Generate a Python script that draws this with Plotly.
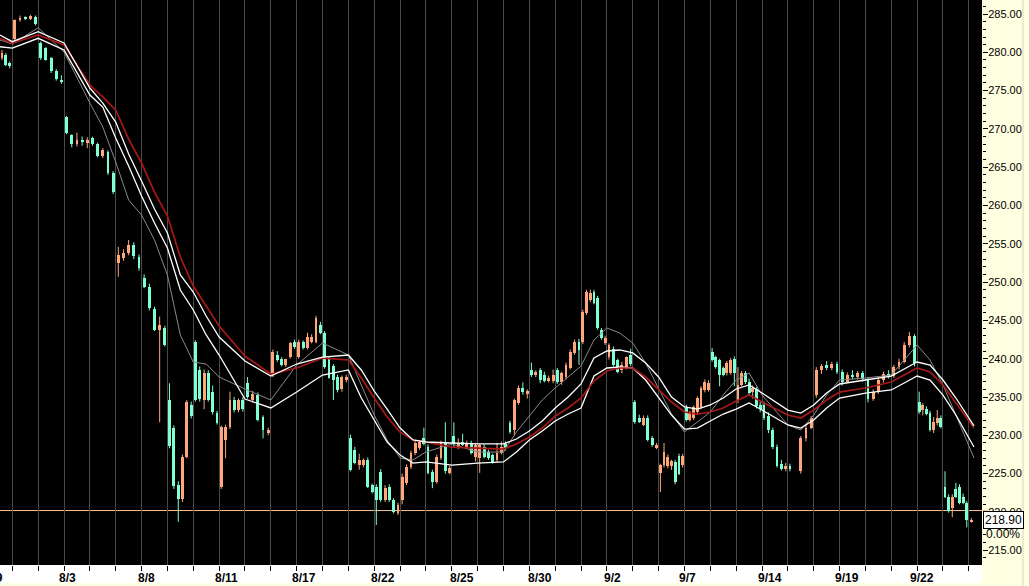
import plotly.graph_objects as go

# ---------------- data (time in trading-day units, gridline = start of day) -------------
bar_t = [
    -0.40, -0.25, -0.10,
    0.10, 0.30, 0.50, 0.70, 0.90,
    1.10, 1.30, 1.50, 1.70, 1.90,
    2.10, 2.30, 2.50, 2.70, 2.90,
    3.10, 3.30, 3.50, 3.70, 3.90,
    4.10, 4.30, 4.50, 4.70, 4.90,
    5.10, 5.30, 5.50, 5.70, 5.90,
    6.08, 6.25, 6.42, 6.58, 6.75, 6.92,
    7.08, 7.25, 7.42, 7.58, 7.75, 7.92,
    8.08, 8.25, 8.42, 8.58, 8.75, 8.92,
    9.10, 9.30, 9.50, 9.70, 9.90,
    10.08, 10.25, 10.42, 10.58, 10.75, 10.92,
    11.08, 11.25, 11.42, 11.58, 11.75, 11.92,
    12.08, 12.25, 12.42, 12.58, 12.75, 12.92,
    13.08, 13.25, 13.42, 13.58, 13.75, 13.92,
    14.08, 14.25, 14.42, 14.58, 14.75, 14.92,
    15.08, 15.25, 15.42, 15.58, 15.75, 15.92,
    16.08, 16.25, 16.42, 16.58, 16.75, 16.92,
    17.08, 17.25, 17.42, 17.58, 17.75, 17.92,
    18.08, 18.25, 18.42, 18.58, 18.75, 18.92,
    19.08, 19.25, 19.42, 19.58, 19.75, 19.92,
    20.08, 20.25, 20.42, 20.58, 20.75, 20.92,
    21.08, 21.25, 21.42, 21.58, 21.75, 21.92,
    22.07, 22.21, 22.36, 22.50, 22.64, 22.79, 22.93,
    23.08, 23.25, 23.42, 23.58, 23.75, 23.92,
    24.08, 24.25, 24.42, 24.58, 24.75, 24.92,
    25.07, 25.21, 25.36, 25.50, 25.64, 25.79, 25.93,
    26.07, 26.21, 26.36, 26.50, 26.64, 26.79, 26.93,
    27.07, 27.21, 27.36, 27.50, 27.64, 27.79, 27.93,
    28.07, 28.21, 28.36, 28.50, 28.64, 28.79, 28.93,
    29.08, 29.25, 29.42, 29.58, 29.75, 29.92,
    30.08, 30.50, 30.70, 30.90,
    31.10, 31.30, 31.50, 31.70, 31.90,
    32.10, 32.30, 32.50, 32.70, 32.90,
    33.10, 33.30, 33.50, 33.70, 33.90,
    34.10, 34.30, 34.50, 34.70, 34.90,
    35.08, 35.22, 35.36, 35.50, 35.64, 35.78, 35.92,
    36.08, 36.22, 36.36, 36.50, 36.64, 36.78, 36.92,
    37.10,
]
bar_open = [
    279.3, 279.6, 278.6,
    281.7, 284.2, 284.5, 284.4, 284.6,
    281.2, 280.5, 279.2, 277.6, 276.4,
    271.6, 269.2, 268.0, 268.5, 268.2,
    268.8, 268.0, 266.4, 267.0, 264.3,
    252.5, 253.2, 253.8, 254.9, 253.3,
    250.5, 249.4, 246.5, 243.8, 244.0,
    234.6, 231.0, 223.5, 221.7, 227.2, 234.0,
    242.2, 238.5, 234.6, 238.1, 235.7, 232.9,
    223.3, 229.4, 231.1, 234.6, 233.3, 234.6,
    236.8, 234.6, 235.3, 232.4, 230.3,
    237.9, 240.5, 239.9, 239.2, 240.2, 242.2,
    240.2, 242.2, 241.4, 242.2, 242.2, 244.4,
    243.4, 240.0, 239.0, 237.6, 236.0, 237.2,
    229.6, 228.1, 226.1, 226.1, 226.8, 223.5,
    223.3, 225.2, 221.6, 223.3, 221.6, 219.9,
    221.6, 223.8, 225.9, 227.7, 228.4, 229.6,
    228.5, 225.2, 223.9, 227.0, 229.1, 225.1,
    229.9, 228.4, 229.1, 228.5, 229.0, 227.2,
    227.0, 228.5, 227.8, 227.4, 226.8, 227.7,
    228.9, 231.6, 230.7, 234.2, 236.2, 235.4,
    238.5, 237.9, 238.5, 237.9, 237.1, 237.1,
    238.5, 236.9, 237.6, 238.8, 240.8, 242.2,
    242.2, 246.0, 247.7, 248.7, 247.9, 243.7, 242.1,
    240.2, 241.3, 239.8, 238.5, 238.9, 240.5,
    234.3, 232.3, 231.4, 232.3, 229.6, 228.4,
    225.1, 226.1, 226.0, 226.0, 226.5, 227.3, 226.1,
    233.6, 232.0, 232.3, 233.1, 233.7, 235.9, 235.9,
    240.9, 240.2, 239.8, 238.8, 238.1, 238.1, 240.0,
    234.6, 236.6, 238.1, 237.0, 235.6, 236.0, 234.0,
    234.0, 232.5, 230.7, 228.5, 226.2, 225.6,
    226.0, 225.3, 229.6, 231.0,
    235.2, 238.5, 239.2, 238.8, 239.3,
    238.3, 237.0, 237.9, 237.6, 238.1,
    237.3, 234.8, 235.7, 237.2, 238.0,
    237.7, 238.9, 239.6, 241.8, 243.0,
    234.3, 233.3, 233.5, 232.9, 230.7, 231.6, 232.3,
    223.3, 222.0, 220.5, 223.0, 223.3, 222.0, 221.2,
    218.8,
]
bar_high = [
    280.3, 279.9, 278.8,
    284.3, 284.8, 284.7, 284.9, 284.8,
    281.4, 280.7, 279.4, 277.8, 277.0,
    271.7, 269.3, 269.5, 269.0, 268.9,
    269.0, 268.2, 267.5, 267.2, 264.5,
    254.6, 254.3, 255.5, 255.2, 253.6,
    251.0, 249.8, 246.8, 245.5, 244.3,
    236.8, 231.3, 224.0, 227.5, 234.6, 234.4,
    242.4, 239.0, 238.6, 238.5, 236.5, 233.2,
    231.3, 231.4, 235.7, 235.0, 234.8, 235.0,
    237.6, 235.8, 235.6, 232.6, 231.0,
    241.2, 241.0, 240.2, 240.0, 242.2, 242.5,
    242.5, 242.4, 243.4, 243.2, 245.6, 244.8,
    243.6, 240.3, 239.3, 237.9, 237.8, 237.9,
    230.1, 228.5, 227.6, 227.0, 227.1, 223.7,
    223.6, 225.6, 223.5, 223.6, 221.8, 221.2,
    225.0, 226.2, 228.0, 229.3, 229.3, 231.0,
    228.8, 225.5, 227.5, 229.3, 231.7, 226.0,
    231.7, 229.6, 230.2, 229.3, 229.3, 229.0,
    228.9, 228.8, 228.1, 227.6, 229.0, 229.2,
    229.2, 231.9, 234.8, 236.5, 236.9, 236.0,
    239.5, 238.5, 238.8, 238.3, 237.8, 238.6,
    238.8, 238.3, 239.5, 241.2, 242.5, 242.6,
    246.4, 249.0, 249.0, 249.0, 248.2, 244.0, 243.0,
    242.0, 241.6, 240.0, 239.6, 240.3, 241.3,
    234.6, 232.7, 232.6, 232.6, 229.9, 229.0,
    226.3, 229.0, 227.5, 226.8, 226.8, 227.6, 227.6,
    234.0, 233.2, 233.9, 235.1, 236.4, 237.3, 237.2,
    241.4, 240.4, 240.0, 239.0, 239.7, 240.1, 240.3,
    238.9, 238.4, 238.4, 237.4, 236.5, 236.3, 234.5,
    234.4, 233.0, 231.0, 228.8, 226.8, 226.4,
    226.3, 229.9, 231.5, 232.5,
    238.9, 239.3, 239.7, 239.6, 239.6,
    238.6, 238.2, 238.5, 238.4, 238.4,
    237.6, 236.0, 237.5, 238.3, 238.5,
    239.2, 240.0, 242.2, 243.5, 243.2,
    235.7, 234.2, 233.8, 233.2, 232.4, 233.3, 232.6,
    225.3, 222.3, 222.3, 223.8, 223.6, 222.4, 221.4,
    219.2,
]
bar_low = [
    279.0, 278.2, 277.9,
    281.5, 284.0, 284.2, 284.2, 283.5,
    279.0, 278.9, 277.3, 276.3, 275.9,
    269.3, 267.6, 267.7, 267.8, 267.5,
    267.8, 266.3, 266.2, 264.0, 261.5,
    250.7, 252.8, 253.5, 253.0, 251.5,
    249.2, 246.3, 243.6, 231.7, 241.6,
    228.3, 223.0, 218.7, 221.3, 227.0, 232.2,
    234.4, 234.4, 233.4, 234.4, 232.7, 231.4,
    223.0, 227.0, 230.8, 233.0, 233.0, 233.1,
    234.8, 234.3, 231.8, 229.6, 230.0,
    237.6, 239.6, 239.0, 238.9, 240.0, 241.3,
    240.0, 241.2, 241.2, 242.0, 242.0, 243.2,
    238.7, 237.4, 234.6, 235.6, 235.7, 236.9,
    225.3, 226.2, 225.5, 225.8, 223.1, 222.4,
    218.3, 221.3, 221.3, 221.3, 219.8, 219.6,
    221.0, 223.5, 225.6, 227.4, 228.1, 228.7,
    224.9, 223.1, 223.7, 226.8, 225.0, 224.9,
    228.5, 228.2, 228.6, 228.3, 227.5, 226.6,
    225.1, 227.0, 226.8, 226.3, 226.5, 227.5,
    228.0, 230.2, 230.0, 234.0, 235.3, 234.8,
    237.6, 237.6, 236.8, 236.9, 236.9, 236.8,
    236.7, 236.6, 237.3, 238.6, 240.5, 239.2,
    241.9, 245.7, 247.4, 247.1, 243.8, 242.5, 241.8,
    239.9, 239.0, 238.1, 238.1, 238.6, 239.0,
    231.5, 231.6, 231.2, 229.2, 228.5, 228.2,
    222.6, 225.8, 225.7, 225.5, 223.6, 224.8, 225.8,
    231.8, 231.8, 232.0, 232.8, 233.4, 235.6, 235.7,
    239.6, 238.7, 236.4, 237.7, 237.8, 237.9, 236.4,
    234.2, 236.4, 236.7, 235.2, 234.8, 233.5, 233.0,
    232.0, 230.3, 228.2, 225.8, 225.4, 225.3,
    225.3, 225.0, 229.2, 230.8,
    234.9, 238.0, 238.5, 238.5, 238.0,
    236.5, 236.8, 237.3, 237.3, 237.0,
    234.3, 234.5, 235.4, 236.9, 237.4,
    237.5, 238.6, 239.4, 241.5, 239.0,
    232.8, 232.6, 232.6, 230.5, 230.3, 231.3, 230.9,
    221.8, 219.9, 219.3, 221.8, 221.0, 221.0, 218.0,
    218.6,
]
bar_close = [
    279.9, 278.3, 278.2,
    284.2, 284.5, 284.4, 284.7, 283.7,
    279.2, 279.0, 277.5, 276.5, 276.1,
    269.5, 268.0, 268.5, 268.3, 268.6,
    268.0, 266.5, 267.2, 264.3, 261.8,
    253.6, 253.8, 254.9, 253.4, 251.8,
    249.4, 246.6, 243.8, 244.4, 241.8,
    228.6, 223.4, 221.7, 227.2, 234.3, 232.5,
    234.6, 234.7, 238.1, 234.6, 233.0, 231.6,
    231.1, 231.1, 234.6, 233.3, 234.6, 233.4,
    235.0, 235.4, 232.0, 230.7, 230.7,
    240.9, 239.8, 239.2, 239.9, 242.0, 241.5,
    242.2, 241.4, 242.8, 242.9, 245.3, 243.4,
    238.9, 237.5, 237.2, 235.9, 237.6, 237.6,
    225.5, 226.4, 226.8, 226.8, 223.3, 222.6,
    221.6, 221.6, 223.1, 221.6, 220.0, 220.9,
    224.6, 225.9, 227.7, 229.0, 229.1, 228.9,
    225.1, 223.9, 227.2, 229.0, 225.3, 225.7,
    228.9, 229.0, 228.8, 229.0, 227.7, 228.7,
    228.7, 227.2, 227.0, 226.5, 227.7, 228.5,
    228.3, 230.4, 234.6, 236.2, 235.6, 235.8,
    237.9, 238.3, 237.2, 237.1, 237.5, 237.9,
    236.9, 238.1, 239.2, 240.9, 242.2, 241.2,
    246.1, 248.7, 248.6, 247.3, 244.0, 242.7, 242.7,
    241.8, 239.2, 238.3, 239.2, 240.2, 239.3,
    231.7, 231.8, 232.3, 229.4, 228.7, 228.8,
    226.1, 227.8, 227.2, 226.6, 223.9, 225.0, 227.3,
    232.0, 233.0, 233.7, 234.9, 236.2, 237.0, 236.8,
    239.8, 238.9, 237.9, 237.9, 239.4, 239.8, 238.1,
    236.6, 238.1, 236.9, 235.5, 236.2, 233.8, 233.4,
    232.3, 230.7, 228.5, 226.0, 225.6, 226.0,
    225.6, 229.6, 231.0, 232.2,
    238.5, 239.0, 238.8, 239.3, 238.3,
    237.0, 237.9, 237.6, 238.1, 237.3,
    234.8, 235.7, 237.2, 238.0, 237.7,
    238.9, 239.6, 241.8, 243.0, 239.5,
    233.0, 233.9, 232.8, 230.7, 231.7, 232.3, 231.1,
    222.0, 220.1, 222.0, 222.0, 221.2, 221.2, 218.9,
    218.9,
]

# moving-average style overlay lines (read at sample times)
ma_t = [-0.48, 0, 1, 2, 3, 3.5, 4, 4.5, 5, 5.5, 6, 6.5, 7, 7.5, 8, 9, 10, 11, 12, 13,
        13.5, 14, 14.5, 15, 15.5, 16, 17, 18, 19, 19.5, 20, 20.5, 21, 21.5, 22, 22.5,
        23, 23.5, 24, 24.5, 25, 25.5, 26, 26.5, 27, 27.5, 28, 28.5, 29, 30, 30.5, 31,
        31.5, 32, 33, 34, 34.5, 35, 35.5, 36, 36.5, 37, 37.2]
ma_red = [281.8, 281.2, 282.26, 280.96, 275.73, 274.17, 272.47, 268.68, 265.55, 261.76,
          258.63, 253.28, 249.49, 246.88, 244.27, 240.35, 238.0, 238.79, 240.09, 239.83,
          237.48, 234.87, 232.39, 230.43, 229.39, 229.13, 228.47, 228.34, 228.21, 228.87,
          229.78, 230.95, 232.52, 233.57, 234.87, 237.09, 238.4, 238.79, 238.79, 237.61,
          235.92, 234.35, 233.04, 232.78, 233.04, 233.57, 234.48, 235.26, 234.35, 232.65,
          232.26, 233.3, 234.61, 235.65, 236.18, 236.96, 237.87, 238.79, 238.27, 236.57,
          234.22, 232.0, 230.95]
ma_white1 = [282.26, 281.39, 282.69, 281.22, 275.34, 273.38, 270.9, 266.73, 263.2, 259.55,
             256.41, 250.93, 248.71, 245.58, 242.83, 239.7, 237.74, 239.31, 240.22, 240.48,
             238.53, 235.78, 233.43, 230.95, 229.39, 229.13, 229.0, 228.87, 228.87, 229.52,
             230.56, 231.87, 233.57, 235.0, 236.7, 240.09, 241.01, 241.14, 240.75, 239.44,
             237.61, 235.0, 233.7, 233.43, 233.96, 234.87, 236.05, 236.57, 235.52, 233.3,
             232.91, 233.96, 235.52, 236.7, 237.22, 237.74, 238.66, 239.57, 239.18, 237.22,
             234.87, 232.26, 231.22]
ma_white2 = [280.73, 280.56, 281.83, 280.3, 274.43, 272.86, 268.81, 265.16, 261.24, 257.72,
             254.45, 248.97, 246.36, 243.1, 240.48, 234.74, 233.57, 235.65, 237.87, 238.53,
             234.87, 232.0, 229.13, 227.43, 226.38, 226.52, 226.12, 226.38, 226.52, 227.82,
             229.39, 230.56, 231.87, 232.78, 233.57, 237.74, 238.79, 238.92, 238.79, 237.22,
             235.0, 232.65, 230.82, 230.95, 231.87, 232.78, 233.43, 234.22, 233.3, 231.35,
             230.95, 232.0, 233.57, 234.87, 235.52, 235.92, 236.83, 237.74, 237.22, 235.26,
             232.65, 229.78, 228.47]
ma_gray = [281.61, 281.09, 283.21, 280.04, 273.38, 270.25, 265.68, 260.72, 258.76, 255.5,
           250.93, 243.1, 239.57, 239.31, 237.61, 236.05, 234.61, 239.18, 242.05, 240.48,
           236.57, 232.65, 229.39, 227.04, 226.78, 227.82, 228.87, 227.82, 227.82, 230.43,
           232.52, 234.61, 236.18, 237.61, 239.05, 242.44, 244.01, 243.36, 242.05, 239.44,
           236.18, 232.78, 230.43, 231.74, 233.04, 235.26, 237.22, 238.13, 235.26, 231.35,
           230.69, 232.65, 235.26, 237.22, 237.48, 237.87, 239.83, 241.79, 239.83, 236.57,
           232.65, 228.74, 227.04]

ref_level = 220.18
date_labels = ["7/29", "8/3", "8/8", "8/11", "8/17", "8/22", "8/25", "8/30",
               "9/2", "9/7", "9/14", "9/19", "9/22"]
date_label_t = [-0.81, 2.12, 5.21, 8.3, 11.3, 14.34, 17.4, 20.4, 23.2, 26.1, 29.3, 32.3, 35.2]

# ---------------- styling ----------------
UP = "#FFA77A"
DOWN = "#7FFFD4"
X0, X1 = -0.476, 37.51
Y0, Y1 = 213.07, 286.83
PLOT_W, PLOT_H = 982, 565

fig = go.Figure()

# wicks
for col, is_up in ((UP, True), (DOWN, False)):
    wx, wy = [], []
    for t, o, h, l, c in zip(bar_t, bar_open, bar_high, bar_low, bar_close):
        if (c >= o) == is_up:
            wx += [t, t, None]
            wy += [l, h, None]
    fig.add_trace(go.Scatter(x=wx, y=wy, mode="lines", line=dict(color=col, width=1),
                             hoverinfo="skip"))

# bodies
for col, is_up in ((UP, True), (DOWN, False)):
    bx, bbase, bh = [], [], []
    for t, o, c in zip(bar_t, bar_open, bar_close):
        if (c >= o) == is_up:
            bx.append(t)
            bbase.append(min(o, c))
            bh.append(max(abs(c - o), 0.15))
    fig.add_trace(go.Bar(x=bx, y=bh, base=bbase, width=0.11,
                         marker=dict(color=col, line=dict(width=0))))

# overlay lines
fig.add_trace(go.Scatter(x=ma_t, y=ma_gray, mode="lines", line=dict(color="#8a8a8a", width=1)))
fig.add_trace(go.Scatter(x=ma_t, y=ma_white2, mode="lines", line=dict(color="#ffffff", width=1.3)))
fig.add_trace(go.Scatter(x=ma_t, y=ma_red, mode="lines", line=dict(color="#a81818", width=1.7)))
fig.add_trace(go.Scatter(x=ma_t, y=ma_white1, mode="lines", line=dict(color="#ffffff", width=1.3)))

ref_y_paper = (ref_level - Y0) / (Y1 - Y0)
shapes = [
    # white date strip under the plot
    dict(type="rect", xref="paper", yref="paper", x0=0, x1=1, y0=-18 / PLOT_H, y1=0,
         fillcolor="#ffffff", line=dict(width=0), layer="below"),
    # horizontal reference line
    dict(type="line", xref="paper", yref="paper", x0=0, x1=990 / PLOT_W,
         y0=ref_y_paper, y1=ref_y_paper, line=dict(color="#FFC392", width=1), layer="below"),
    # right edge separator
    dict(type="line", xref="paper", yref="paper", x0=1023 / PLOT_W, x1=1023 / PLOT_W,
         y0=-21 / PLOT_H, y1=1, line=dict(color="#D8D4C4", width=1), layer="below"),
]

annotations = []
for txt, t in zip(date_labels, date_label_t):
    annotations.append(dict(xref="paper", yref="paper", x=(t - X0) / (X1 - X0),
                            y=-13 / PLOT_H, text=txt, showarrow=False,
                            xanchor="center", yanchor="middle",
                            font=dict(family="Liberation Sans", size=12, color="#000000",
                                      weight="bold")))
last_close = bar_close[-1]
annotations.append(dict(xref="paper", yref="y", x=1003 / PLOT_W, y=last_close,
                        text=f"{last_close:.2f}", showarrow=False, xanchor="center",
                        yanchor="middle", bgcolor="#ffffff", bordercolor="#000000",
                        borderwidth=1, borderpad=1,
                        font=dict(family="Liberation Sans", size=12, color="#000000")))
annotations.append(dict(xref="paper", yref="y", x=1003 / PLOT_W, y=last_close, yshift=-14,
                        text="0.00%", showarrow=False, xanchor="center", yanchor="middle",
                        font=dict(family="Liberation Sans", size=12, color="#000000")))

fig.update_layout(
    width=1029, height=586,
    margin=dict(l=0, r=47, t=0, b=21, pad=0),
    paper_bgcolor="#FFFFE1", plot_bgcolor="#000000",
    showlegend=False, barmode="overlay", bargap=0,
    shapes=shapes, annotations=annotations,
    xaxis=dict(range=[X0, X1], tickmode="linear", tick0=0, dtick=1,
               ticks="outside", ticklen=5, tickcolor="#000000", tickwidth=1,
               showgrid=True, gridcolor="#4a4a4a", gridwidth=1,
               showticklabels=False, zeroline=False, showline=False, fixedrange=True),
    yaxis=dict(side="right", range=[Y0, Y1], tickmode="linear", tick0=215, dtick=5,
               tickformat=".2f", ticks="outside", ticklen=5, tickcolor="#000000",
               tickfont=dict(family="Liberation Sans", size=11, color="#000000"),
               ticklabelstandoff=-2,
               showgrid=False, zeroline=False, showline=False, fixedrange=True,
               minor=dict(dtick=1, ticks="outside", ticklen=3, tickcolor="#000000",
                          showgrid=False)),
)

fig.write_html("out.html", config={"displayModeBar": False},
               post_script="document.body.style.margin='0';document.body.style.overflow='hidden';")
